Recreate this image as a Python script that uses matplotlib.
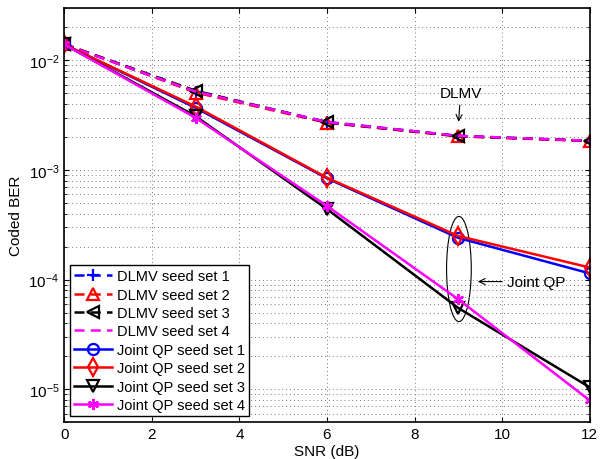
import matplotlib.pyplot as plt
from matplotlib.patches import Ellipse

plt.rcParams['font.family'] = ['Liberation Sans', 'DejaVu Sans']
plt.rcParams['mathtext.fontset'] = 'custom'
plt.rcParams['mathtext.rm'] = 'Liberation Sans'
plt.rcParams['mathtext.it'] = 'Liberation Sans'

snr = [0, 3, 6, 9, 12]

dlmv_1 = [0.0140, 5.2e-3, 2.75e-3, 2.05e-3, 1.85e-3]
dlmv_2 = [0.0142, 5.1e-3, 2.70e-3, 2.03e-3, 1.84e-3]
dlmv_3 = [0.0141, 5.3e-3, 2.72e-3, 2.04e-3, 1.85e-3]
dlmv_4 = [0.0140, 5.2e-3, 2.74e-3, 2.05e-3, 1.85e-3]

jqp_1 = [0.0140, 3.7e-3, 8.4e-4, 2.4e-4, 1.14e-4]
jqp_2 = [0.0140, 3.8e-3, 8.5e-4, 2.5e-4, 1.29e-4]
jqp_3 = [0.0140, 3.1e-3, 4.4e-4, 5.5e-5, 1.04e-5]
jqp_4 = [0.0140, 3.0e-3, 4.7e-4, 6.6e-5, 7.9e-6]

labels = ['DLMV seed set 1', 'DLMV seed set 2', 'DLMV seed set 3', 'DLMV seed set 4',
          'Joint QP seed set 1', 'Joint QP seed set 2', 'Joint QP seed set 3', 'Joint QP seed set 4']

fig = plt.figure(figsize=(6, 4.6), dpi=100)
ax = fig.add_axes([0.107, 0.080, 0.876, 0.900])

mag = '#ff00ff'
lw = 1.8
ms = 8
mew = 1.6
dash = (0, (4, 2.5))
ax.plot(snr, dlmv_1, linestyle=dash, color='blue', marker='+', ms=ms, mew=mew, lw=lw, label=labels[0])
ax.plot(snr, dlmv_2, linestyle=dash, color='red', marker='^', ms=ms, mfc='none', mew=mew, lw=lw, label=labels[1])
ax.plot(snr, dlmv_3, linestyle=dash, color='black', marker='<', ms=ms, mfc='none', mew=mew, lw=lw, label=labels[2])
ax.plot(snr, dlmv_4, linestyle=dash, color=mag, lw=lw, label=labels[3])
ax.plot(snr, jqp_1, '-', color='blue', marker='o', ms=ms, mfc='none', mew=mew, lw=lw, label=labels[4])
ax.plot(snr, jqp_2, '-', color='red', marker='d', ms=ms + 1, mfc='none', mew=mew, lw=lw, label=labels[5])
ax.plot(snr, jqp_3, '-', color='black', marker='v', ms=ms, mfc='none', mew=mew, lw=lw, label=labels[6])
ax.plot(snr, jqp_4, '-', color=mag, marker=(6, 2, 0), ms=ms, mew=mew, lw=lw, label=labels[7])

ax.set_yscale('log')
ax.set_xlim(0, 12)
ax.set_ylim(5e-6, 3e-2)
ax.set_xticks([0, 2, 4, 6, 8, 10, 12])
grid_style = dict(linestyle=(0, (1, 3)), color='#777777', lw=0.7)
ax.grid(True, which='major', **grid_style)
ax.grid(True, which='minor', axis='y', **grid_style)
ax.tick_params(which='both', direction='in', top=True, right=True, labelsize=11)
for s in ax.spines.values():
    s.set_linewidth(1.2)

ax.set_xlabel('SNR (dB)', fontsize=11, labelpad=2)
ax.set_ylabel('Coded BER', fontsize=11)

# annotations
ax.annotate('DLMV', xy=(9, 2.6e-3), xytext=(9.05, 4.4e-3), ha='center', va='bottom', fontsize=11,
            arrowprops=dict(arrowstyle='->', color='black', lw=0.8))
ax.add_patch(Ellipse((0.751, 0.370), 0.047, 0.254, transform=ax.transAxes,
                     fill=False, ec='black', lw=0.8))
ax.annotate('Joint QP', xy=(9.38, 9.6e-5), xytext=(10.12, 9.6e-5), ha='left', va='center', fontsize=11,
            arrowprops=dict(arrowstyle='->', color='black', lw=0.8))

leg = ax.legend(loc='lower left', fontsize=10.5, labelspacing=0.3, handlelength=2.6,
                handletextpad=0.3, borderpad=0.3, borderaxespad=0.4, fancybox=False,
                edgecolor='black', framealpha=1)
leg.get_frame().set_linewidth(1.0)

fig.savefig('out.png', dpi=100)
